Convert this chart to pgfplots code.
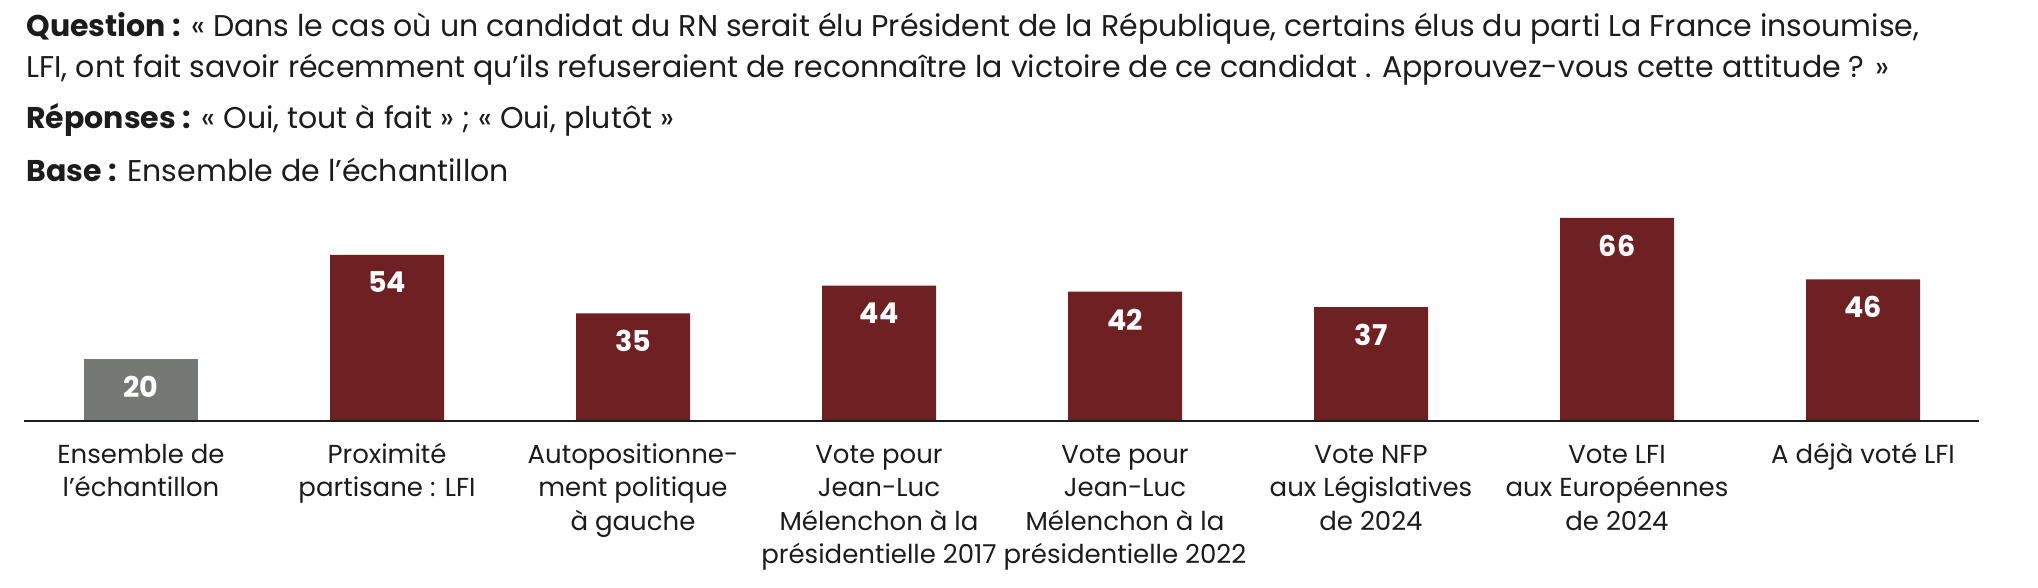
\documentclass[border=0pt]{standalone}
\usepackage{pgfplots}
\pgfplotsset{compat=1.18}
\usepackage{fontspec}
\setmainfont{Poppins}
\definecolor{barred}{HTML}{6E2023}
\definecolor{bargray}{HTML}{747975}
\definecolor{txt}{HTML}{1C1C1C}
\newcommand{\titlefont}{\fontsize{15}{18}\selectfont}
\newcommand{\labfont}{\fontsize{13}{16.75}\selectfont}
\begin{document}
\begin{tikzpicture}
\useasboundingbox (0,0) rectangle (1019pt,294pt);
\node[anchor=base west, inner sep=0pt, text=txt, font=\titlefont] at (13pt,275.65pt) {\textbf{Question :} « Dans le cas où un candidat du RN serait élu Président de la République, certains élus du parti La France insoumise,};
\node[anchor=base west, inner sep=0pt, text=txt, font=\titlefont] at (13pt,255pt) {LFI, ont fait savoir récemment qu’ils refuseraient de reconnaître la victoire de ce candidat . Approuvez-vous cette attitude ? »};
\node[anchor=base west, inner sep=0pt, text=txt, font=\titlefont] at (13pt,229.5pt) {\textbf{Réponses :} « Oui, tout à fait » ; « Oui, plutôt »};
\node[anchor=base west, inner sep=0pt, text=txt, font=\titlefont] at (13pt,203pt) {\textbf{Base :} Ensemble de l’échantillon};
\begin{axis}[
  at={(12pt,83.5pt)}, anchor=south west,
  x=123pt, y=1.539pt,
  xmin=-0.4756, xmax=7.4715, ymin=0, ymax=66,
  clip=false,
  axis line style={draw=none},
  ytick=\empty,
  xtick={0,1,2,3,4,5,6,7},
  xtick style={draw=none},
  major tick length=0pt,
  /pgf/number format/assume math mode=true,
  xticklabels={
    {\strut Ensemble de\\l’échantillon},
    {\strut Proximité\\partisane : LFI},
    {\strut Autopositionne-\\ment politique\\à gauche},
    {\strut Vote pour\\Jean-Luc\\Mélenchon à la\\présidentielle 2017},
    {\strut Vote pour\\Jean-Luc\\Mélenchon à la\\présidentielle 2022},
    {\strut Vote NFP\\aux Législatives\\de 2024},
    {\strut Vote LFI\\aux Européennes\\de 2024},
    {\strut A déjà voté LFI}},
  x tick label style={font=\labfont, text=txt, align=center, anchor=north, inner sep=0pt, yshift=-9.3pt},
  ybar, bar shift=0pt, bar width=57pt,
  nodes near coords,
  point meta=y,
  every node near coord/.append style={anchor=north, yshift=-8.4pt, inner sep=0pt, text=white, font=\fontsize{14.3}{16}\selectfont\bfseries},
]
\addplot[fill=bargray, draw=none] coordinates {(0,20)};
\addplot[fill=barred, draw=none] coordinates {(1,54) (2,35) (3,44) (4,42) (5,37) (6,66) (7,46)};
\draw[line width=1pt, draw=txt] (axis cs:-0.4756,0) -- (axis cs:7.4715,0);
\end{axis}
\end{tikzpicture}
\end{document}
